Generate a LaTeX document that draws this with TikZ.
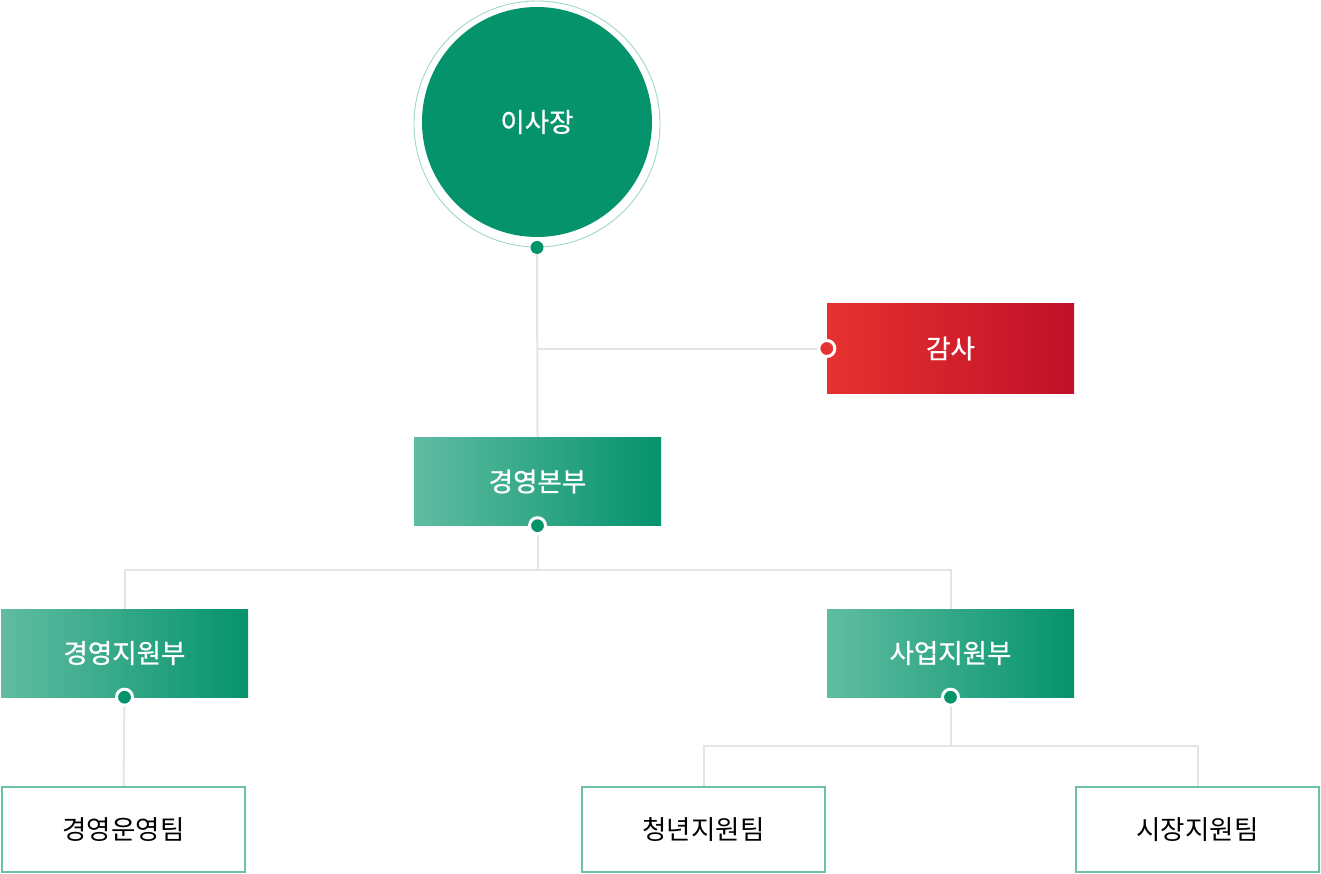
\documentclass[tikz,border=0pt]{standalone}
\usepackage{fontspec}
\setmainfont{Noto Sans CJK KR}
\newfontfamily\medfont{Noto Sans CJK KR}[FakeBold=0.8]
\usetikzlibrary{backgrounds}
\definecolor{gdark}{RGB}{5,147,108}
\definecolor{glight}{RGB}{96,188,162}
\definecolor{gring}{RGB}{160,216,196}
\definecolor{rlight}{RGB}{230,50,48}
\definecolor{rdark}{RGB}{192,16,40}
\definecolor{conn}{RGB}{228,228,228}
\definecolor{teamline}{RGB}{108,192,168}
\tikzset{
  deptbox/.style={rectangle, minimum width=247pt, minimum height=88pt, inner sep=0pt,
    left color=glight, right color=gdark, text=white, font=\medfont\fontsize{26.5}{30}\selectfont},
  auditbox/.style={rectangle, minimum width=247pt, minimum height=89pt, inner sep=0pt,
    left color=rlight, right color=rdark, text=white, font=\medfont\fontsize{26.5}{30}\selectfont},
  teambox/.style={rectangle, draw=teamline, line width=2pt, fill=white, minimum width=243pt,
    minimum height=85pt, inner sep=0pt, text=black, font=\fontsize{26.5}{30}\selectfont},
  ringdot/.style={circle, draw=white, line width=3pt, fill=#1, minimum size=16pt, inner sep=0pt},
  plaindot/.style={circle, fill=gdark, minimum size=13pt, inner sep=0pt},
  link/.style={draw=conn, line width=2pt},
}
\begin{document}
\begin{tikzpicture}[x=1pt,y=-1pt]
\useasboundingbox (0,0) rectangle (1321,874);
% chair
\node[circle, draw=gring, line width=0.9pt, minimum size=246pt, inner sep=0pt] (ring) at (537,124) {};
\node[circle, fill=gdark, minimum size=230pt, inner sep=0pt, text=white,
  font=\medfont\fontsize{26.5}{30}\selectfont] (chair) at (537,122) {이사장};
\node[plaindot] (d0) at (ring.south) {};
% boxes
\node[auditbox] (audit) at (950.5,348.5) {감사};
\node[deptbox] (hq) at (537.5,481.5) {경영본부};
\node[deptbox] (sup1) at (124.5,653) {경영지원부};
\node[deptbox] (sup2) at (950.5,653) {사업지원부};
\node[teambox] (t1) at (123.5,829.5) {경영운영팀};
\node[teambox] (t2) at (703.5,829.5) {청년지원팀};
\node[teambox] (t3) at (1197.5,829.5) {시장지원팀};
% dots
\node[ringdot=rlight] (da) at (audit.west) {};
\node[ringdot=gdark] (dh) at (hq.south) {};
\node[ringdot=gdark] (ds1) at (sup1.south) {};
\node[ringdot=gdark] (ds2) at (sup2.south) {};
% junctions
\coordinate (ja) at (537.5,348.5);
\coordinate (jh) at (537.5,570);
\coordinate (js) at (950.5,745.5);
\begin{scope}[on background layer]
\draw[link] (d0.center) -- (hq.north);
\draw[link] (ja) -- (da.center);
\draw[link] (dh.center) -- (jh);
\draw[link] (jh) -| (sup1.north);
\draw[link] (jh) -| (sup2.north);
\draw[link] (ds1.center) -- (t1.north);
\draw[link] (ds2.center) -- (js);
\draw[link] (js) -| (t2.north);
\draw[link] (js) -| (t3.north);
\end{scope}
\end{tikzpicture}
\end{document}
